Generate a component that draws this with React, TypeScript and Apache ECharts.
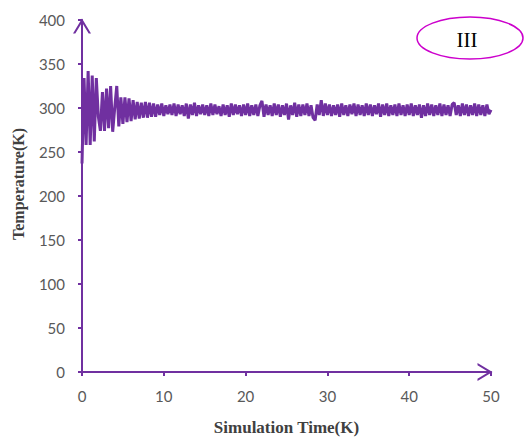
import React, { useEffect, useRef } from "react";
import * as echarts from "echarts";

const TIME_STEP = 0.25; // sampling step (time units)
const xTicks = [0, 10, 20, 30, 40, 50];
const yTicks = [0, 50, 100, 150, 200, 250, 300, 350, 400];

// temperature values, one per 0.25 time unit
const tempEarly = [
  237, 334, 258, 342, 258, 337, 262, 334, 290, 274, 318, 274, 322, 277,
  325, 273, 300, 325, 279, 312, 282, 312, 284, 311, 285, 309, 287, 307,
];
const tempLate = [
  288, 306, 289, 307, 289, 306, 290, 305,
  290, 304, 292, 305, 291, 303, 293, 304,
  292, 305, 291, 304, 293, 303, 291, 305,
  288, 304, 292, 306, 291, 303, 293, 304,
  292, 303, 291, 305, 292, 304, 293, 302,
  291, 304, 292, 303, 290, 305, 292, 304,
  293, 303, 291, 304, 292, 305, 291, 303,
  292, 304, 291, 303, 308, 290, 304, 292,
  303, 291, 305, 292, 304, 290, 303, 292,
  305, 287, 303, 292, 306, 290, 304, 291,
  304, 292, 305, 291, 303, 289, 286, 304,
  292, 309, 291, 305, 292, 304, 291, 303,
  292, 304, 290, 305, 292, 303, 291, 304,
  293, 305, 291, 304, 292, 303, 291, 305,
  292, 304, 291, 303, 293, 305, 290, 304,
  292, 305, 291, 303, 292, 304, 291, 305,
  292, 303, 291, 304, 292, 305, 291, 303,
  292, 304, 289, 303, 291, 305, 292, 304,
  291, 303, 292, 305, 291, 304, 292, 303,
  291, 304, 306, 292, 303, 291, 305, 292,
  304, 291, 303, 292, 305, 291, 304, 292,
  303, 291, 304, 293, 298,
];

const PURPLE = "#7030A0";
const ARROW = "path://M0,15 L9,0 L18,15 L15.7,15 L9,3.9 L2.3,15 Z";

export default function App() {
  const ref = useRef<HTMLDivElement>(null);
  useEffect(() => {
    document.body.style.margin = "0";
    if (!ref.current) return;
    const chart = echarts.init(ref.current, null, { renderer: "svg" });
    const values = [...tempEarly, ...tempLate];
    const data = values.map((v, i) => [i * TIME_STEP, v]);
    const axisLine = {
      show: true,
      lineStyle: { color: PURPLE, width: 2 },
      symbol: ["none", ARROW],
      symbolSize: [18, 15],
      symbolOffset: [0, -6],
    };
    chart.setOption({
      animation: false,
      backgroundColor: "#ffffff",
      grid: {
        left: 82,
        right: 34,
        top: 20,
        bottom: 65,
        containLabel: false,
        outerBoundsMode: "none",
      },
      xAxis: {
        type: "value",
        min: xTicks[0],
        max: xTicks[xTicks.length - 1],
        interval: 10,
        name: "Simulation Time(K)",
        nameLocation: "middle",
        nameGap: 47,
        nameTextStyle: {
          fontFamily: "Liberation Serif",
          fontWeight: "bold",
          fontSize: 17,
          color: "#404040",
        },
        axisLine,
        axisTick: { show: true, length: 4, lineStyle: { color: PURPLE, width: 2 } },
        axisLabel: { margin: 16, fontFamily: "Lato", fontSize: 15, color: "#595959" },
        splitLine: { show: false },
      },
      yAxis: {
        type: "value",
        min: yTicks[0],
        max: yTicks[yTicks.length - 1],
        interval: 50,
        axisLine,
        axisTick: { show: true, length: 4, lineStyle: { color: PURPLE, width: 2 } },
        axisLabel: { margin: 17, fontFamily: "Lato", fontSize: 15, color: "#595959" },
        splitLine: { show: false },
      },
      graphic: [
        {
          type: "text",
          x: 18,
          y: 184,
          rotation: Math.PI / 2,
          style: {
            text: "Temperature(K)",
            fontFamily: "Liberation Serif",
            fontWeight: "bold",
            fontSize: 16,
            fill: "#404040",
            align: "center",
            verticalAlign: "middle",
          },
        },
        {
          type: "ellipse",
          shape: { cx: 470, cy: 38, rx: 53, ry: 21 },
          style: { fill: "none", stroke: "#CC00CC", lineWidth: 1.5 },
        },
        {
          type: "text",
          x: 467,
          y: 40,
          style: {
            text: "III",
            fontFamily: "Liberation Serif",
            fontSize: 21,
            fill: "#000000",
            align: "center",
            verticalAlign: "middle",
          },
        },
      ],
      series: [
        {
          type: "line",
          data,
          showSymbol: false,
          symbol: "none",
          lineStyle: { color: PURPLE, width: 3 },
          itemStyle: { color: PURPLE },
        },
      ],
    });
    return () => chart.dispose();
  }, []);
  return <div ref={ref} style={{ width: 525, height: 437 }} />;
}
